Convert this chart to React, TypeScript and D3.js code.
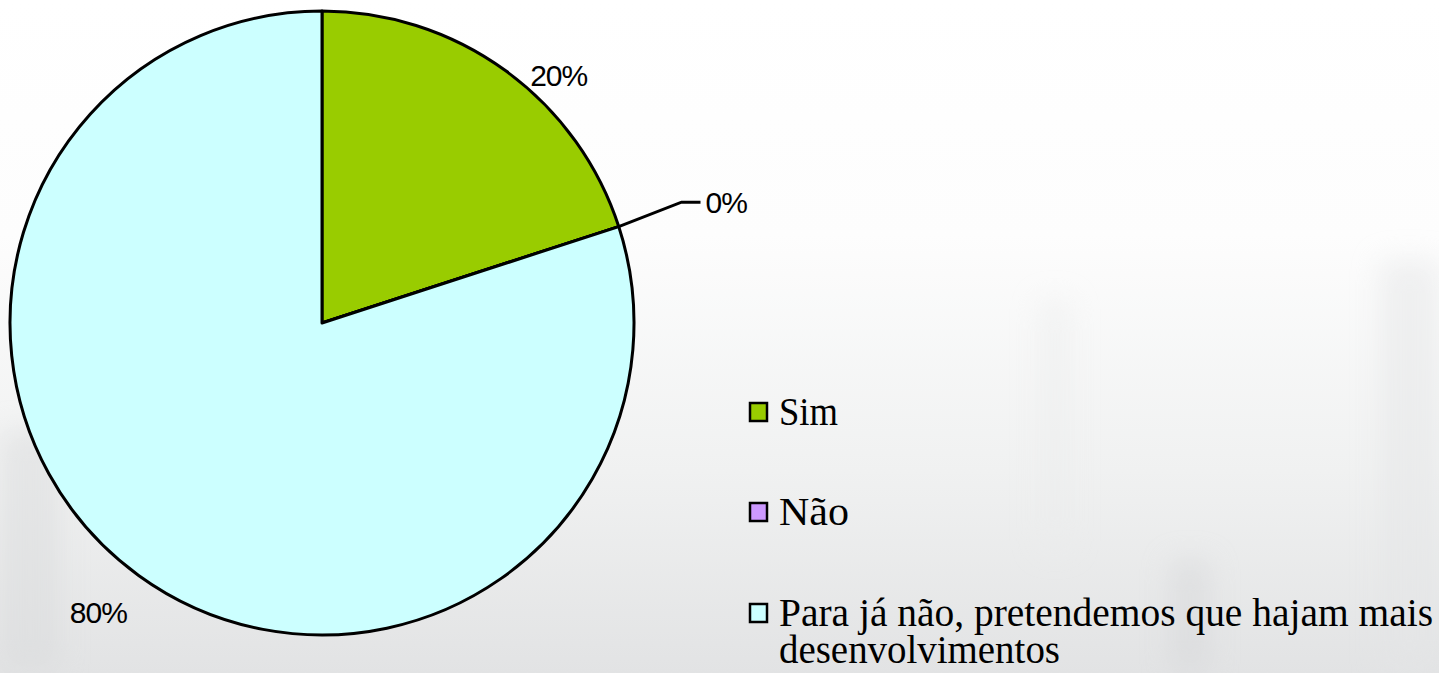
import React from 'react';
import * as d3 from 'd3';

const categories = ['Sim', 'Não', 'Para já não, pretendemos que hajam mais desenvolvimentos'];
const values = [20, 0, 80];
const valueLabels = ['20%', '0%', '80%'];
const colors = ['#99cc00', '#cc99ff', '#ccffff'];
// legend text split into lines, with the width each line takes in the reference
const legendLines = [['Sim'], ['Não'], ['Para já não, pretendemos que hajam mais', 'desenvolvimentos']];
const legendWidths = [[59], [70], [654, 281]];
// nudges of the percent labels from their default spot, px
const labelNudges = [
  [38, 26],
  [0, 0],
  [-25, 16],
];

const width = 1439;
const height = 673;
const cx = 322;
const cy = 323;
const radius = 312;
const serif = "'Liberation Serif', 'DejaVu Serif', serif";
const sans = "'Liberation Sans', Arial, sans-serif";

const App = () => {
  const pie = d3.pie<number>().sort(null).value(d => d);
  const arcs = pie(values);
  const arc = d3.arc<d3.PieArcDatum<number>>().innerRadius(0).outerRadius(radius);

  const pointAt = (angle: number, r: number) => [
    cx + r * Math.sin(angle),
    cy - r * Math.cos(angle),
  ];

  const legendY = d3.scaleOrdinal<number, number>().domain([0, 1, 2]).range([412, 512, 613]);

  return (
    <svg
      width={width}
      height={height}
      style={{ position: 'absolute', left: 0, top: 0 }}
    >
      <defs>
        <linearGradient id="bg" x1="0" y1="0" x2="0" y2="1">
          <stop offset="0" stopColor="#ffffff" />
          <stop offset="0.35" stopColor="#fdfdfd" />
          <stop offset="0.7" stopColor="#f0f1f1" />
          <stop offset="1" stopColor="#e2e3e4" />
        </linearGradient>
        <filter id="blur" x="-50%" y="-50%" width="200%" height="200%">
          <feGaussianBlur stdDeviation="14" />
        </filter>
      </defs>
      <rect x={0} y={0} width={width} height={height} fill="url(#bg)" />
      <g filter="url(#blur)" opacity={0.5}>
        <rect x={0} y={430} width={60} height={243} fill="#d9dadb" />
        <rect x={1170} y={560} width={40} height={113} fill="#d6d7d9" />
        <rect x={1040} y={300} width={30} height={250} fill="#ebecec" />
        <rect x={1380} y={260} width={59} height={413} fill="#e4e5e6" />
      </g>

      <g transform={`translate(${cx},${cy})`}>
        {arcs.map((a, i) => (
          <path
            key={categories[i]}
            d={arc(a) || ''}
            fill={colors[i]}
            stroke="#000"
            strokeWidth={3}
            strokeLinejoin="round"
          />
        ))}
      </g>

      {arcs.map((a, i) => {
        const mid = (a.startAngle + a.endAngle) / 2;
        if (a.value === 0) {
          const [x0, y0] = pointAt(mid, radius);
          const [x1, y1] = pointAt(mid, radius + 66);
          const x2 = x1 + 19;
          return (
            <g key={'lbl' + i}>
              <polyline
                points={`${x0},${y0} ${x1},${y1 - 4} ${x2},${y1 - 4}`}
                fill="none"
                stroke="#000"
                strokeWidth={3}
              />
              <text
                x={x2 + 5}
                y={y1 - 4}
                dy="0.36em"
                fontFamily={sans}
                fontSize={30}
                fill="#000"
                letterSpacing={-1}
              >
                {valueLabels[i]}
              </text>
            </g>
          );
        }
        const [x, y] = pointAt(mid, radius + 26);
        return (
          <text
            key={'lbl' + i}
            x={x + labelNudges[i][0]}
            y={y + labelNudges[i][1]}
            dy="0.36em"
            textAnchor="middle"
            fontFamily={sans}
            fontSize={30}
            fill="#000"
            letterSpacing={-1}
          >
            {valueLabels[i]}
          </text>
        );
      })}

      {categories.map((c, i) => {
        const yc = legendY(i);
        return (
          <g key={'leg' + i}>
            <rect
              x={750}
              y={yc - 9}
              width={17}
              height={18}
              fill={colors[i]}
              stroke="#000"
              strokeWidth={2.5}
            />
            {legendLines[i].map((l, j) => (
              <text
                key={j}
                x={779}
                y={yc + 13 + j * 37}
                fontFamily={serif}
                fontSize={39}
                fill="#000"
                textLength={legendWidths[i][j]}
                lengthAdjust="spacingAndGlyphs"
              >
                {l}
              </text>
            ))}
          </g>
        );
      })}
    </svg>
  );
};

export default App;
